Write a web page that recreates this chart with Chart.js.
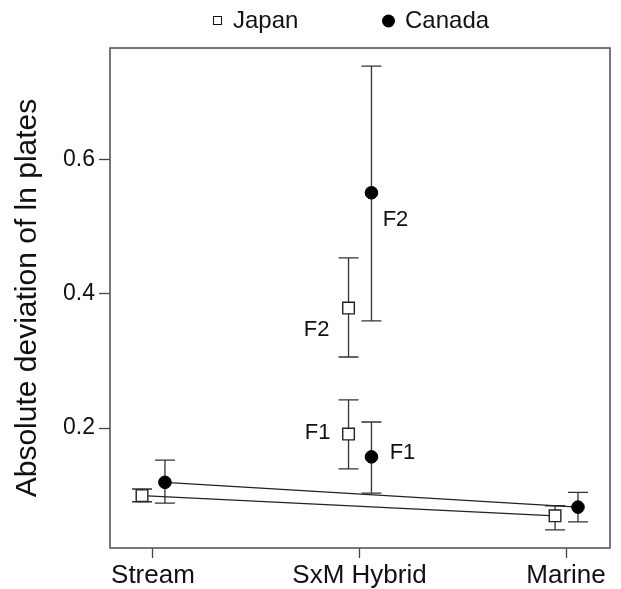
<!DOCTYPE html>
<html>
<head>
<meta charset="utf-8">
<script src="https://cdn.jsdelivr.net/npm/chart.js@4.4.0/dist/chart.umd.min.js"></script>
<style>
html, body { margin: 0; padding: 0; background: #fff; }
</style>
</head>
<body>
<canvas id="chart" width="621" height="589"></canvas>
<script>
const categories = ['Stream', 'SxM Hybrid', 'Marine'];
const yTicks = [0.2, 0.4, 0.6];

// pure forms: Stream (0) and Marine (2), joined by a line
const endIndex = [0, 2];
const japanEnds = [0.099, 0.069];
const japanEndsLow = [0.090, 0.048];
const japanEndsHigh = [0.109, 0.084];
const canadaEnds = [0.119, 0.082];
const canadaEndsLow = [0.088, 0.060];
const canadaEndsHigh = [0.152, 0.104];

// hybrids, F1 and F2
const hybridTags = ['F1', 'F2'];
const japanHybrid = [0.191, 0.379];
const japanHybridLow = [0.139, 0.306];
const japanHybridHigh = [0.242, 0.454];
const canadaHybrid = [0.157, 0.551];
const canadaHybridLow = [0.103, 0.360];
const canadaHybridHigh = [0.209, 0.740];

const FONT = "'Liberation Sans', Arial, Helvetica, sans-serif";
const INK = '#111';
const JP_SHIFT = -0.053;
const CA_SHIFT = 0.058;

Chart.defaults.font.family = FONT;
Chart.defaults.color = INK;

function pts(xs, ys, lo, hi, shift, tags) {
    return ys.map((v, i) => ({ x: xs[i] + shift, y: v, lo: lo[i], hi: hi[i], tag: tags ? tags[i] : null }));
}

const japanStyle = {
    borderColor: '#222', borderWidth: 1.3,
    pointStyle: 'rect', pointRadius: 8.2, pointBorderWidth: 1.4,
    pointBackgroundColor: '#fff', pointBorderColor: '#222'
};
const canadaStyle = {
    borderColor: '#222', borderWidth: 1.3,
    pointStyle: 'circle', pointRadius: 6.3, pointBorderWidth: 1,
    pointBackgroundColor: '#000', pointBorderColor: '#000'
};

// where the F1/F2 tags sit relative to their point, px
const tagOffset = {
    Japan: { F1: [-31, -1], F2: [-32, 22] },
    Canada: { F1: [31, -4], F2: [24, 27] }
};

const errorBars = {
    id: 'errorBars',
    beforeDatasetsDraw(chart) {
        const { ctx, scales: { x, y } } = chart;
        ctx.save();
        ctx.strokeStyle = '#333';
        ctx.lineWidth = 1.3;
        chart.data.datasets.forEach(ds => {
            ds.data.forEach(p => {
                const px = x.getPixelForValue(p.x);
                const top = y.getPixelForValue(p.hi);
                const bot = y.getPixelForValue(p.lo);
                ctx.beginPath();
                ctx.moveTo(px, top); ctx.lineTo(px, bot);
                ctx.moveTo(px - 10, top); ctx.lineTo(px + 10, top);
                ctx.moveTo(px - 10, bot); ctx.lineTo(px + 10, bot);
                ctx.stroke();
            });
        });
        ctx.restore();
    },
    afterDatasetsDraw(chart) {
        const { ctx, chartArea: a, scales: { x, y } } = chart;
        ctx.save();
        ctx.fillStyle = INK;
        ctx.font = '22px ' + FONT;
        ctx.textAlign = 'center';
        ctx.textBaseline = 'middle';
        chart.data.datasets.forEach(ds => {
            ds.data.forEach(p => {
                if (!p.tag) return;
                const off = tagOffset[ds.country][p.tag];
                ctx.fillText(p.tag, x.getPixelForValue(p.x) + off[0], y.getPixelForValue(p.y) + off[1]);
            });
        });
        // frame round the plot
        ctx.strokeStyle = '#555';
        ctx.lineWidth = 1.6;
        ctx.strokeRect(a.left, a.top, a.right - a.left, a.bottom - a.top);
        ctx.restore();
    },
    afterDraw(chart) {
        const { ctx } = chart;
        ctx.save();
        ctx.font = '24px ' + FONT;
        ctx.textBaseline = 'middle';
        ctx.fillStyle = INK;
        // Japan
        ctx.strokeStyle = '#111';
        ctx.lineWidth = 1;
        ctx.strokeRect(213.5, 16.5, 8, 8);
        ctx.fillText('Japan', 233, 21);
        // Canada
        ctx.beginPath();
        ctx.arc(388.5, 21, 6.5, 0, Math.PI * 2);
        ctx.fillStyle = '#000';
        ctx.fill();
        ctx.fillStyle = INK;
        ctx.fillText('Canada', 405, 21);
        ctx.restore();
    }
};

new Chart(document.getElementById('chart'), {
    type: 'scatter',
    data: {
        datasets: [
            Object.assign({ label: 'Japan', country: 'Japan', showLine: true,
                data: pts(endIndex, japanEnds, japanEndsLow, japanEndsHigh, JP_SHIFT) }, japanStyle),
            Object.assign({ label: 'Japan hybrids', country: 'Japan', showLine: false,
                data: pts([1, 1], japanHybrid, japanHybridLow, japanHybridHigh, JP_SHIFT, hybridTags) }, japanStyle),
            Object.assign({ label: 'Canada', country: 'Canada', showLine: true,
                data: pts(endIndex, canadaEnds, canadaEndsLow, canadaEndsHigh, CA_SHIFT) }, canadaStyle),
            Object.assign({ label: 'Canada hybrids', country: 'Canada', showLine: false,
                data: pts([1, 1], canadaHybrid, canadaHybridLow, canadaHybridHigh, CA_SHIFT, hybridTags) }, canadaStyle)
        ]
    },
    options: {
        responsive: false,
        animation: false,
        layout: { padding: { top: 48, right: 11, left: 0, bottom: 0 } },
        plugins: { legend: { display: false }, tooltip: { enabled: false } },
        scales: {
            x: {
                type: 'linear',
                min: -0.208,
                max: 2.213,
                afterBuildTicks: s => { s.ticks = categories.map((c, i) => ({ value: i })); },
                afterFit: s => { s.height = 41; },
                border: { display: false },
                grid: { drawOnChartArea: false, tickLength: 10, tickColor: '#444', tickWidth: 1.3 },
                ticks: {
                    autoSkip: false, maxRotation: 0, padding: 2, color: INK,
                    font: { size: 26 },
                    callback: v => categories[v]
                }
            },
            y: {
                min: 0.021,
                max: 0.767,
                afterBuildTicks: s => { s.ticks = yTicks.map(v => ({ value: v })); },
                afterFit: s => { s.width = 110; },
                border: { display: false },
                grid: { drawOnChartArea: false, tickLength: 11, tickColor: '#444', tickWidth: 1.3 },
                ticks: { padding: 4, color: INK, font: { size: 23 }, callback: v => v.toFixed(1) },
                title: {
                    display: true,
                    text: 'Absolute deviation of ln plates',
                    color: INK,
                    font: { size: 30 },
                    padding: { top: 10, bottom: 0 }
                }
            }
        }
    },
    plugins: [errorBars]
});
</script>
</body>
</html>
